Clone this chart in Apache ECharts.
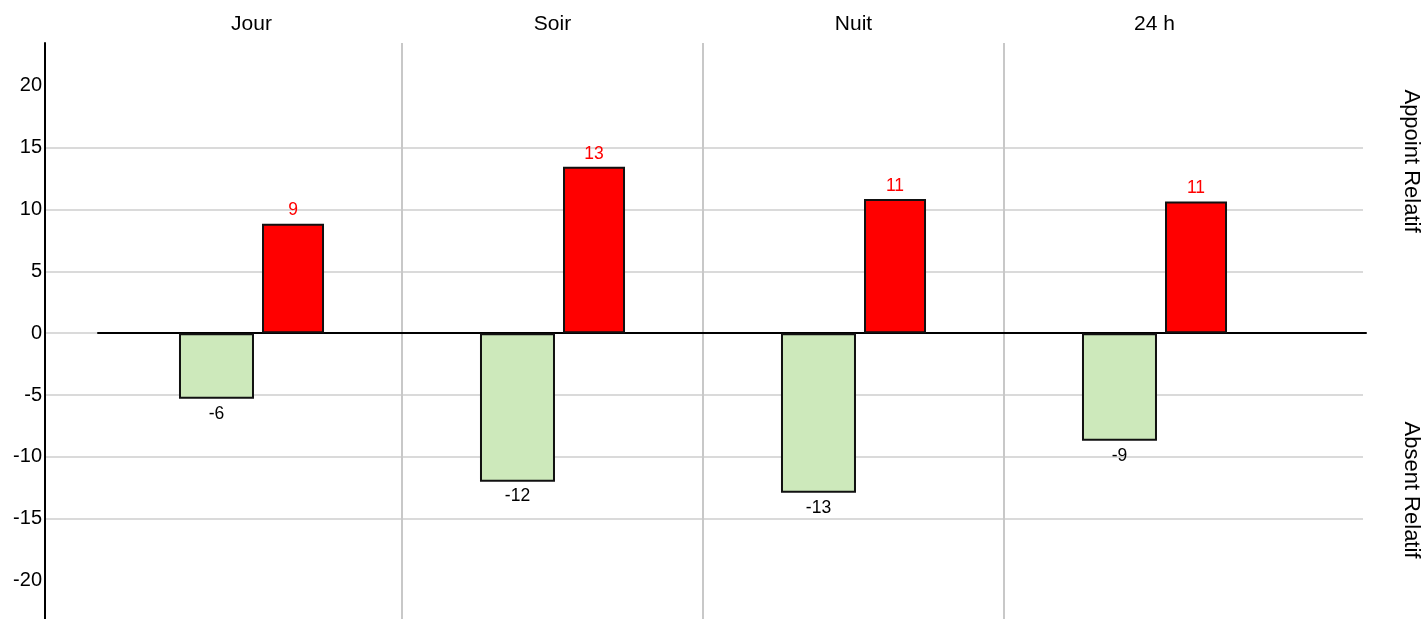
<!DOCTYPE html>
<html>
<head>
<meta charset="utf-8">
<script src="https://cdn.jsdelivr.net/npm/echarts@6/dist/echarts.min.js"></script>
<style>
html,body{margin:0;padding:0;background:#fff;}
#chart{width:1426px;height:619px;}
</style>
</head>
<body>
<div id="chart"></div>
<script>
const categories = ["Jour", "Soir", "Nuit", "24 h"];
const absentValues = [-5.3, -12.0, -12.9, -8.7];
const absentLabels = ["-6", "-12", "-13", "-9"];
const appointValues = [8.85, 13.45, 10.85, 10.65];
const appointLabels = ["9", "13", "11", "11"];
const yTicks = [-20, -15, -10, -5, 0, 5, 10, 15, 20];
const sideTitles = ["Appoint Relatif", "Absent Relatif"];

const FONT = "Liberation Sans, Arial, sans-serif";
const Y_MIN = -23.1, Y_MAX = 23.45;
const TOP = 43, BOTTOM = 0;

const chart = echarts.init(document.getElementById('chart'));
const option = {
  animation: false,
  backgroundColor: '#fff',
  textStyle: { fontFamily: FONT },
  grid: [
    { left: 45, right: 63, top: TOP, bottom: BOTTOM },
    { left: 101, right: 121, top: TOP, bottom: BOTTOM },
    { left: 98, right: 60, top: TOP, bottom: BOTTOM }
  ],
  xAxis: [
    { gridIndex: 0, type: 'value', min: 0, max: 1, show: false },
    {
      gridIndex: 1, type: 'category', data: categories, position: 'top',
      axisLine: { show: false }, axisTick: { show: false },
      axisLabel: { color: '#000', fontSize: 21, margin: 8, fontFamily: FONT },
      splitLine: { show: true, showMinLine: false, showMaxLine: false,
        lineStyle: { color: '#c8c8c8', width: 2 } }
    },
    {
      gridIndex: 2, type: 'category', data: categories, z: 3,
      axisLine: { show: true, onZero: true, lineStyle: { color: '#000', width: 2 } },
      axisTick: { show: false }, axisLabel: { show: false }, splitLine: { show: false }
    }
  ],
  yAxis: [
    {
      gridIndex: 0, type: 'value', min: Y_MIN, max: Y_MAX,
      axisLine: { show: true, lineStyle: { color: '#000', width: 2 } },
      axisTick: { show: false, customValues: yTicks },
      axisLabel: { customValues: yTicks, color: '#000', fontSize: 20, margin: 3, fontFamily: FONT },
      splitLine: { show: true, showMinLine: false, showMaxLine: false,
        lineStyle: { color: '#dadada', width: 2 } }
    },
    { gridIndex: 1, type: 'value', min: Y_MIN, max: Y_MAX, show: false, splitLine: { show: false } },
    { gridIndex: 2, type: 'value', min: Y_MIN, max: Y_MAX, show: false, splitLine: { show: false } }
  ],
  series: [
    {
      name: 'Absent Relatif', type: 'bar', xAxisIndex: 1, yAxisIndex: 1,
      data: absentValues, barWidth: 75, barGap: '10.7%', z: 4,
      itemStyle: { color: '#cde9bb', borderColor: '#111', borderWidth: 2 },
      label: { show: true, position: 'bottom', distance: 6, color: '#000', fontSize: 17.5, fontFamily: FONT,
        formatter: p => absentLabels[p.dataIndex] }
    },
    {
      name: 'Appoint Relatif', type: 'bar', xAxisIndex: 1, yAxisIndex: 1,
      data: appointValues, barWidth: 62, barGap: '10.7%', z: 4,
      itemStyle: { color: '#ff0000', borderColor: '#111', borderWidth: 2 },
      label: { show: true, position: 'top', distance: 4, color: '#ff0000', fontSize: 17.5, fontFamily: FONT,
        formatter: p => appointLabels[p.dataIndex] }
    }
  ],
  graphic: [
    { type: 'text', x: 1411, y: 161, rotation: -Math.PI / 2,
      style: { text: sideTitles[0], fill: '#000', fontSize: 22, fontFamily: FONT, align: 'center', verticalAlign: 'middle' } },
    { type: 'text', x: 1411, y: 490, rotation: -Math.PI / 2,
      style: { text: sideTitles[1], fill: '#000', fontSize: 22, fontFamily: FONT, align: 'center', verticalAlign: 'middle' } }
  ]
};
chart.setOption(option);
</script>
</body>
</html>
